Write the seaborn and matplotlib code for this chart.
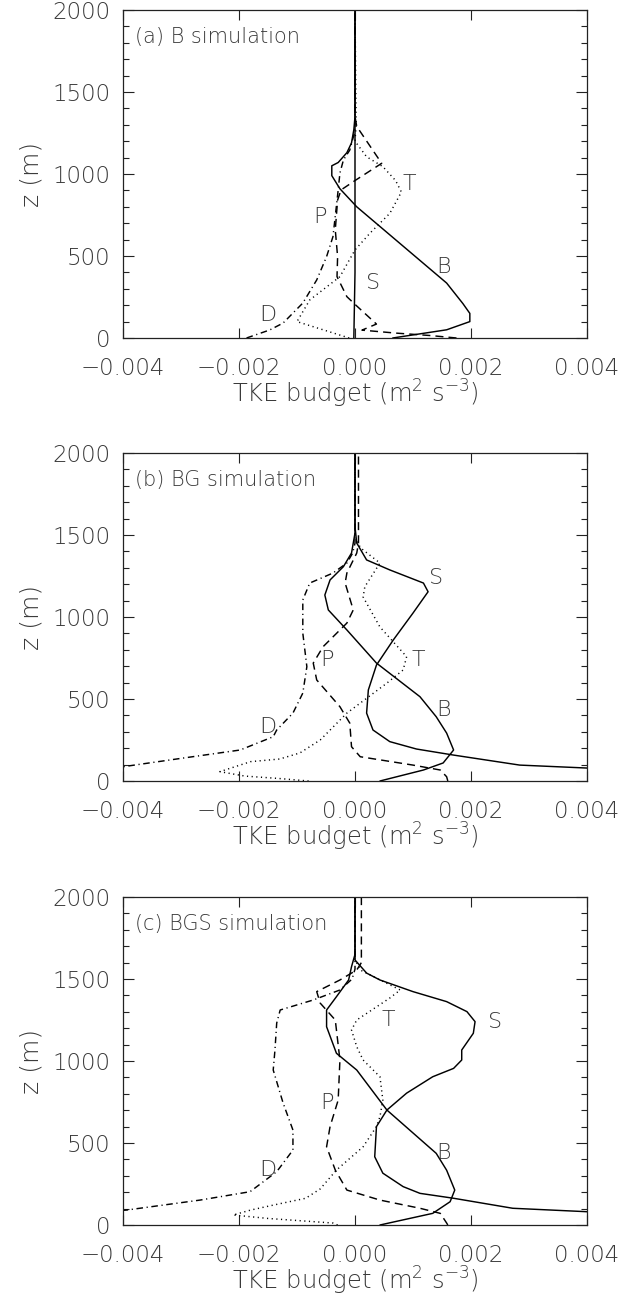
import numpy as np
import pandas as pd
import matplotlib
matplotlib.use("Agg")
import matplotlib.pyplot as plt
import seaborn as sns
from matplotlib.ticker import MultipleLocator, FuncFormatter

# ---------------- data (x = TKE budget term, z = height in m) ----------------
# Panel (a) B simulation
A_B_z = [0, 50, 100, 150, 210, 335, 800, 910, 990, 1050, 1070, 1130, 1190, 1270, 1350, 2000]
A_B_x = [0.00065, 0.00158, 0.00198, 0.00198, 0.00186, 0.00158, 0.00003, -0.00026, -0.0004,
         -0.0004, -0.00029, -0.00014, -0.00006, -0.00002, 0.0, 0.0]
A_S_z = [0, 200, 400, 2000]
A_S_x = [-0.00002, -0.00001, 0.0, 0.0]
A_T_z = [0, 100, 232, 374, 537, 640, 760, 890, 960, 1045, 1105, 1200, 1300, 2000]
A_T_x = [-0.0001, -0.001, -0.00078, -0.00026, 0.0, 0.00026, 0.0006, 0.0008, 0.0007, 0.00048,
         0.0002, 0.0, 0.00002, 0.0]
A_P_z = [0, 15, 30, 48, 85, 205, 252, 374, 496, 659, 841, 903, 960, 1065, 1290, 1350, 2000]
A_P_x = [0.00175, 0.0013, 0.0007, 0.00012, 0.00037, 0.0, -0.00014, -0.00031, -0.0003, -0.00034,
         -0.0003, -0.00024, 0.0, 0.00046, 0.00003, 0.0, 0.0]
A_D_z = [0, 49, 91, 213, 354, 496, 618, 902, 1006, 1085, 1146, 1250, 1300, 2000]
A_D_x = [-0.00187, -0.00147, -0.00124, -0.0009, -0.00066, -0.00049, -0.00038, -0.00029, -0.00026,
         -0.0002, -0.00009, -0.00001, 0.0, 0.0]

# Panel (b) BG simulation
B_S_z = [60, 79, 97, 158, 195, 240, 311, 414, 555, 707, 860, 1024, 1154, 1207, 1287, 1348, 1451, 1550, 2000]
B_S_x = [0.0052, 0.004, 0.00284, 0.0017, 0.00106, 0.0006, 0.00031, 0.0002, 0.00023, 0.00037,
         0.00066, 0.001, 0.00126, 0.00118, 0.0006, 0.0002, 0.00003, 0.0, 0.0]
B_B_z = [0, 67, 110, 189, 292, 392, 514, 719, 921, 1043, 1134, 1226, 1307, 1390, 1512, 2000]
B_B_x = [0.00043, 0.00118, 0.00152, 0.0017, 0.00158, 0.0014, 0.00112, 0.00037, -0.00014, -0.00046,
         -0.00052, -0.00043, -0.0002, -0.00006, 0.0, 0.0]
B_T_z = [0, 15, 30, 57, 118, 134, 171, 250, 414, 597, 677, 758, 939, 1122, 1185, 1329, 1420, 1480, 2000]
B_T_x = [-0.0008, -0.0013, -0.0019, -0.00233, -0.0018, -0.0013, -0.00095, -0.0006, -0.00014, 0.00055,
         0.00083, 0.00089, 0.00043, 0.00014, 0.00017, 0.00043, 0.0001, 0.0, 0.0]
B_P_z = [0, 26, 67, 97, 148, 209, 353, 453, 616, 719, 819, 963, 1043, 1207, 1268, 1390, 1450, 2000]
B_P_x = [0.0016, 0.00158, 0.00147, 0.001, 0.00009, -0.00006, -0.00009, -0.00026, -0.00066, -0.00072,
         -0.00055, -0.00014, -0.00003, -0.00017, -0.00014, 0.00003, 0.00006, 0.00006]
B_D_z = [65, 87, 140, 189, 270, 311, 414, 536, 697, 902, 1104, 1207, 1268, 1329, 1390, 1450, 2000]
B_D_x = [-0.0052, -0.004, -0.00296, -0.00198, -0.00141, -0.00135, -0.00107, -0.0009, -0.00083,
         -0.0009, -0.0009, -0.00078, -0.00038, -0.00014, -0.00004, 0.0, 0.0]

# Panel (c) BGS simulation
C_S_z = [60, 81, 102, 163, 193, 234, 316, 416, 600, 701, 804, 904, 955, 1006, 1067, 1169, 1240,
         1301, 1362, 1423, 1494, 1536, 1616, 2000]
C_S_x = [0.0052, 0.004, 0.00272, 0.0017, 0.00112, 0.00083, 0.00048, 0.00034, 0.00037, 0.00055,
         0.00089, 0.00134, 0.0017, 0.00184, 0.00184, 0.00204, 0.00207, 0.00193, 0.00158, 0.001,
         0.00043, 0.0002, 0.0, 0.0]
C_B_z = [0, 71, 142, 213, 334, 437, 701, 945, 1047, 1209, 1311, 1392, 1494, 1575, 1650, 2000]
C_B_x = [0.00043, 0.00134, 0.00164, 0.00172, 0.00158, 0.0014, 0.00055, 0.00003, -0.00032, -0.00049,
         -0.00049, -0.00032, -0.00011, -0.00006, 0.0, 0.0]
C_T_z = [0, 12, 40, 61, 91, 122, 163, 220, 335, 477, 600, 660, 762, 904, 1006, 1087, 1189, 1250,
         1384, 1433, 1555, 1620, 2000]
C_T_x = [-0.0003, -0.00038, -0.0015, -0.0021, -0.0018, -0.0014, -0.00085, -0.0006, -0.00032,
         0.00014, 0.00037, 0.00043, 0.00048, 0.00043, 0.00014, 0.00003, -0.00006, 0.00003, 0.0006,
         0.00078, 0.00009, 0.0, 0.0]
C_P_z = [0, 12, 71, 102, 152, 213, 335, 477, 600, 762, 1006, 1250, 1353, 1423, 1494, 1555, 1600, 2000]
C_P_x = [0.0016, 0.00158, 0.00147, 0.00112, 0.00043, -0.00014, -0.00034, -0.00049, -0.00043,
         -0.00029, -0.00026, -0.00034, -0.0006, -0.00066, -0.00026, 0.00003, 0.00011, 0.00011]
C_D_z = [70, 91, 152, 203, 325, 457, 579, 744, 945, 1067, 1231, 1311, 1372, 1433, 1500, 1560, 2000]
C_D_x = [-0.0048, -0.00394, -0.00267, -0.00181, -0.00135, -0.00107, -0.00107, -0.00124, -0.00141,
         -0.00138, -0.00135, -0.00129, -0.00072, -0.00026, -0.00005, 0.0, 0.0]

panel_titles = ["(a) B simulation", "(b) BG simulation", "(c) BGS simulation"]
x_ticks = [-0.004, -0.002, 0.0, 0.002, 0.004]
y_ticks = [0, 500, 1000, 1500, 2000]

# curve label annotations: (text, x, z)
A_labels = [("T", 0.00093, 940), ("P", -0.0006, 740), ("B", 0.00152, 435), ("S", 0.00031, 335), ("D", -0.0015, 140)]
B_labels = [("S", 0.0014, 1237), ("T", 0.00109, 738), ("P", -0.00049, 738), ("B", 0.00152, 433), ("D", -0.0015, 331)]
C_labels = [("S", 0.00241, 1240), ("T", 0.00057, 1250), ("P", -0.00049, 744), ("B", 0.00152, 437), ("D", -0.0015, 335)]

panels = [
    dict(series=[("B", A_B_x, A_B_z), ("S", A_S_x, A_S_z), ("T", A_T_x, A_T_z), ("P", A_P_x, A_P_z), ("D", A_D_x, A_D_z)],
         labels=A_labels),
    dict(series=[("B", B_B_x, B_B_z), ("S", B_S_x, B_S_z), ("T", B_T_x, B_T_z), ("P", B_P_x, B_P_z), ("D", B_D_x, B_D_z)],
         labels=B_labels),
    dict(series=[("B", C_B_x, C_B_z), ("S", C_S_x, C_S_z), ("T", C_T_x, C_T_z), ("P", C_P_x, C_P_z), ("D", C_D_x, C_D_z)],
         labels=C_labels),
]

styles = {
    "B": "-",
    "S": "-",
    "T": (0, (0.8, 2.4)),
    "P": (0, (5.5, 3.5)),
    "D": (0, (4.5, 2.5, 0.8, 2.5)),
}

# ---------------- figure ----------------
sns.set_theme(style="ticks")
plt.rcParams["font.family"] = ["DejaVu Sans"]
plt.rcParams["font.weight"] = "light"
plt.rcParams["mathtext.fontset"] = "custom"
plt.rcParams["mathtext.rm"] = "DejaVu Sans:weight=light"
plt.rcParams["mathtext.it"] = "DejaVu Sans:weight=light"
plt.rcParams["mathtext.bf"] = "DejaVu Sans:weight=light"
plt.rcParams["mathtext.sf"] = "DejaVu Sans:weight=light"
TXT = "#3a3a3a"
FW = "light"

fig = plt.figure(figsize=(6.22, 12.98), dpi=100)
W, H = 622, 1298
ax_left, ax_w, ax_h = 123 / W, 464 / W, 328 / H
bottoms = [960 / H, 517 / H, 73 / H]

fmt = FuncFormatter(lambda v, p: ("\u2212%.3f" % abs(v)) if v < -1e-12 else "%.3f" % abs(v))

for i, pan in enumerate(panels):
    ax = fig.add_axes([ax_left, bottoms[i], ax_w, ax_h])
    for name, xs, zs in pan["series"]:
        df = pd.DataFrame({"x": xs, "z": zs})
        sns.lineplot(data=df, x="x", y="z", sort=False, estimator=None, orient="y",
                     ax=ax, color="black", linewidth=1.05, linestyle=styles[name])
    ax.set_xlim(-0.004, 0.004)
    ax.set_ylim(0, 2000)
    ax.set_xticks(x_ticks)
    ax.set_yticks(y_ticks)
    ax.yaxis.set_minor_locator(MultipleLocator(100))
    ax.xaxis.set_major_formatter(fmt)
    ax.tick_params(axis="both", which="both", direction="in", colors="#222222",
                   labelcolor=TXT, labelsize=16.5, width=0.8)
    ax.tick_params(axis="x", which="major", top=True, bottom=True, length=7, pad=14)
    ax.tick_params(axis="y", which="major", left=True, right=True, length=8, pad=9)
    ax.tick_params(axis="y", which="minor", left=True, right=True, length=4)
    ax.tick_params(axis="x", which="minor", top=False, bottom=False)
    for lab in ax.get_xticklabels() + ax.get_yticklabels():
        lab.set_fontweight(FW)
    for sp in ax.spines.values():
        sp.set_visible(True)
        sp.set_linewidth(0.9)
        sp.set_color("#222222")
    ax.set_xlabel("TKE budget (m$^2$ s$^{-3}$)", fontsize=17.5, color=TXT, fontweight=FW)
    ax.xaxis.set_label_coords(0.5, -0.122)
    ax.set_ylabel("z (m)", fontsize=18, color=TXT, fontweight=FW)
    ax.yaxis.set_label_coords(-0.172, 0.5)
    ax.text(0.026, 0.918, panel_titles[i], transform=ax.transAxes, ha="left", va="center",
            fontsize=15, color=TXT, fontweight=FW)
    for t, lx, lz in pan["labels"]:
        ax.text(lx, lz, t, ha="center", va="center", fontsize=16, color=TXT, fontweight=FW)

fig.savefig("out.png", dpi=100)
